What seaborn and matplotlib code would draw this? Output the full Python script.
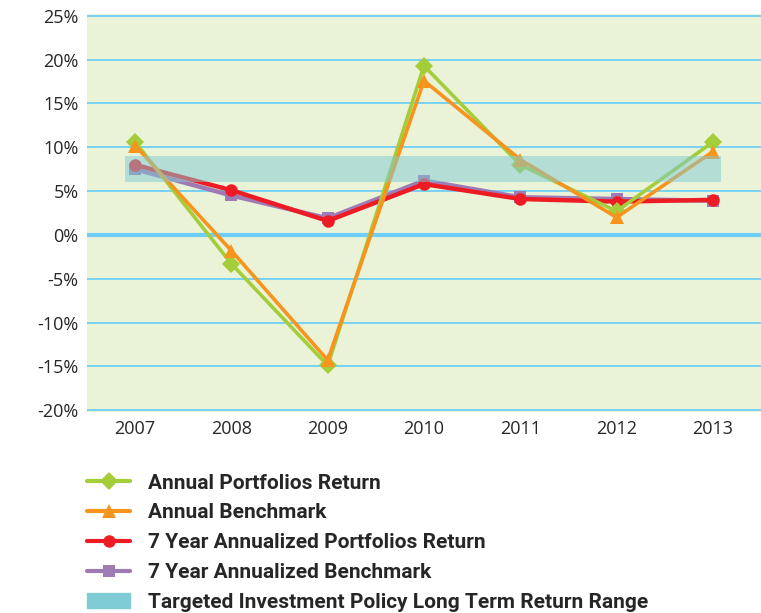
import numpy as np
import pandas as pd
import matplotlib
matplotlib.use("Agg")
import matplotlib.pyplot as plt
import seaborn as sns
from matplotlib.lines import Line2D
from matplotlib.patches import Patch

# data (percent)
years = [2007, 2008, 2009, 2010, 2011, 2012, 2013]
annual_portfolio = [10.6, -3.3, -14.9, 19.3, 8.0, 2.7, 10.6]
annual_benchmark = [10.2, -1.8, -14.3, 17.6, 8.6, 2.0, 9.5]
ann7_portfolio = [8.0, 5.1, 1.6, 5.8, 4.1, 3.8, 4.0]
ann7_benchmark = [7.5, 4.5, 1.9, 6.2, 4.3, 4.1, 3.9]
target_low, target_high = 6.0, 9.0
yticks = [-20, -15, -10, -5, 0, 5, 10, 15, 20, 25]

sns.set_style("white")
plt.rcParams['font.family'] = ['Open Sans', 'DejaVu Sans']

fig = plt.figure(figsize=(7.61, 6.13), dpi=100)
ax = fig.add_axes([0.1143, 0.328, 0.8857, 0.649])
ax.set_facecolor("#EAF2D7")

for y in yticks:
    ax.axhline(y, color="#6DCFF6", lw=3 if y == 0 else 1.3, zorder=1)

x = np.arange(len(years))
sns.lineplot(x=x, y=ann7_benchmark, ax=ax, color="#9E7BB5", lw=3.2,
             marker="s", markersize=9, markeredgewidth=0, zorder=3)
sns.lineplot(x=x, y=ann7_portfolio, ax=ax, color="#ED1C24", lw=3.2,
             marker="o", markersize=9, markeredgewidth=0, zorder=4)
sns.lineplot(x=x, y=annual_portfolio, ax=ax, color="#A4CE39", lw=2.6,
             marker="D", markersize=9, markeredgewidth=0, zorder=5)
sns.lineplot(x=x, y=annual_benchmark, ax=ax, color="#F7941D", lw=2.6,
             marker="^", markersize=10, markeredgewidth=0, zorder=6)

ax.fill_between([-0.1, 6.08], target_low, target_high, color="#80CCD4",
                alpha=0.5, lw=0, zorder=7)

ax.set_xlim(-0.5, 6.5)
ax.set_ylim(-20.2, 25.2)
ax.set_xticks(x)
ax.set_xticklabels([str(y) for y in years], fontsize=13)
ax.set_yticks(yticks)
ax.set_yticklabels([f"{v}%" for v in yticks], fontsize=13)
ax.tick_params(length=0, pad=6)
for s in ax.spines.values():
    s.set_visible(False)

handles = [
    Line2D([], [], color="#A4CE39", lw=3, marker="D", markersize=9, markeredgewidth=0),
    Line2D([], [], color="#F7941D", lw=3, marker="^", markersize=10, markeredgewidth=0),
    Line2D([], [], color="#ED1C24", lw=3, marker="o", markersize=9, markeredgewidth=0),
    Line2D([], [], color="#9E7BB5", lw=3, marker="s", markersize=9, markeredgewidth=0),
    Patch(color="#80CCD4"),
]
labels = ["Annual Portfolios Return", "Annual Benchmark",
          "7 Year Annualized Portfolios Return", "7 Year Annualized Benchmark",
          "Targeted Investment Policy Long Term Return Range"]
leg = fig.legend(handles, labels, loc="upper left", bbox_to_anchor=(0.1035, 0.241),
                 frameon=False, handlelength=2.07, handletextpad=0.86,
                 labelspacing=0.52, borderaxespad=0,
                 prop={"family": ["Roboto", "DejaVu Sans"],
                       "weight": "bold", "size": 15})

fig.savefig("out.png", dpi=100)
